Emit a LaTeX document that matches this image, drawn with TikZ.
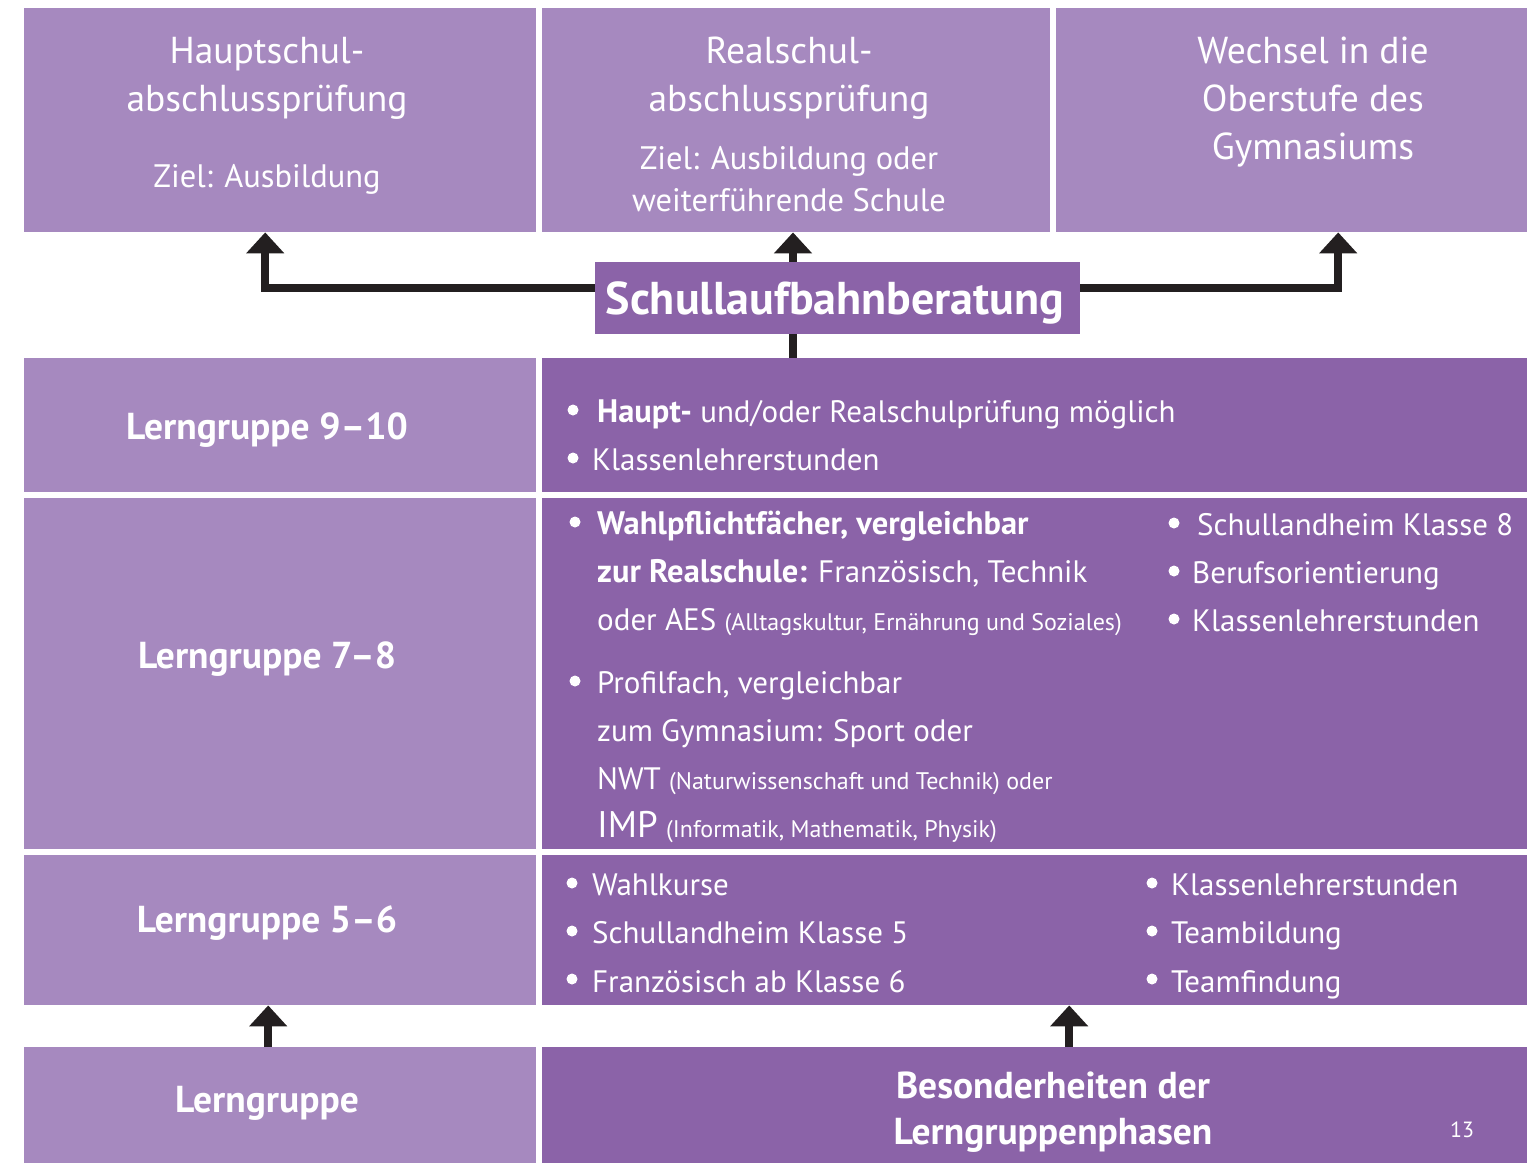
\documentclass[tikz,border=0pt]{standalone}
\usepackage{fontspec}
\setmainfont{PT Sans}
\usetikzlibrary{arrows.meta}
\definecolor{lightp}{RGB}{166,137,191}
\definecolor{darkp}{RGB}{139,99,168}
\definecolor{arrc}{RGB}{35,31,32}
\newcommand{\fs}[1]{\fontsize{#1}{#1}\selectfont}
\tikzset{
  lbox/.style={fill=lightp, draw=none, inner sep=0pt, anchor=north west},
  dbox/.style={fill=darkp, draw=none, inner sep=0pt, anchor=north west},
  ttl/.style={text=white, inner sep=0pt, anchor=base, font=\fs{37.5}},
  zl/.style={font=\fs{32.5}},
  lab/.style={text=white, inner sep=0pt, anchor=base, font=\bfseries\fs{37.5}},
  itm/.style={text=white, inner sep=0pt, anchor=base west, font=\fs{31}},
  conn/.style={draw=arrc, line width=8.5pt},
  tip/.style={-{Triangle[width=37pt,length=21pt]}},
  bul/.style={fill=white}
}
\newcommand{\sm}[1]{{\fs{24}#1}}
\newcommand{\bd}[1]{{\bfseries\fs{32.5}#1}}
\begin{document}
\begin{tikzpicture}[x=1pt,y=-1pt]
\useasboundingbox (0,0) rectangle (1527,1163);
% boxes
\node[lbox, minimum width=512pt, minimum height=224pt] (hs) at (24,8) {};
\node[lbox, minimum width=508pt, minimum height=224pt] (rs) at (542,8) {};
\node[lbox, minimum width=471pt, minimum height=224pt] (gy) at (1056,8) {};
\node[dbox, minimum width=485pt, minimum height=72pt] (sb) at (595,262) {};
\node[lbox, minimum width=512pt, minimum height=134pt] (l910) at (24,358) {};
\node[dbox, minimum width=985pt, minimum height=134pt] (r910) at (542,358) {};
\node[lbox, minimum width=512pt, minimum height=351pt] (l78) at (24,498) {};
\node[dbox, minimum width=985pt, minimum height=351pt] (r78) at (542,498) {};
\node[lbox, minimum width=512pt, minimum height=150pt] (l56) at (24,855) {};
\node[dbox, minimum width=985pt, minimum height=150pt] (r56) at (542,855) {};
\node[lbox, minimum width=512pt, minimum height=116pt] (lg) at (24,1047) {};
\node[dbox, minimum width=985pt, minimum height=116pt] (bes) at (542,1047) {};
% connectors
\coordinate (mx) at (793,0);
\draw[conn, tip] ([yshift=10pt]sb.west) -| ([xshift=-15pt]hs.south);
\draw[conn, tip] ([yshift=10pt]sb.east) -| ([xshift=46.5pt]gy.south);
\draw[conn, tip] (sb.north -| mx) -- (rs.south -| mx);
\draw[conn] (sb.south -| mx) -- (r910.north -| mx);
\draw[conn, tip] ([xshift=-12pt]lg.north) -- ([xshift=-12pt]l56.south);
\draw[conn, tip] ([xshift=34.5pt]bes.north) -- ([xshift=34.5pt]bes.north |- r56.south);
% top texts
\node[ttl] (hs1) at (267,63) {Hauptschul-};
\node[ttl] (hs2) at (267,111) {abschlussprüfung};
\node[ttl, zl] (hs3) at (267,187) {Ziel: Ausbildung};
\node[ttl] (rs1) at (789,63) {Realschul-};
\node[ttl] (rs2) at (789,111) {abschlussprüfung};
\node[ttl, zl] (rs3) at (789,169) {Ziel: Ausbildung oder};
\node[ttl, zl] (rs4) at (789,211) {weiterführende Schule};
\node[ttl] (gy1) at (1313,63) {Wechsel in die};
\node[ttl] (gy2) at (1313,111) {Oberstufe des};
\node[ttl] (gy3) at (1313,159) {Gymnasiums};
\node[lab, font=\bfseries\fs{46}] (sbt) at (835,314) {Schullaufbahnberatung};
% left labels
\node[lab] (t910) at (267,439) {Lerngruppe 9–10};
\node[lab] (t78) at (267,668) {Lerngruppe 7–8};
\node[lab] (t56) at (267,932) {Lerngruppe 5–6};
\node[lab] (tlg) at (267,1112) {Lerngruppe};
% row 9-10
\fill[bul] (573,410) circle (5.5);
\fill[bul] (573,458) circle (5.5);
\node[itm] (a1) at (597,422) {\bd{Haupt-} und/oder Realschulprüfung möglich};
\node[itm] (a2) at (592,470) {Klassenlehrerstunden};
% row 7-8
\fill[bul] (575,522) circle (5.5);
\fill[bul] (575,681) circle (5.5);
\node[itm] (b1) at (597,534) {\bd{Wahlpflichtfächer, vergleichbar}};
\node[itm] (b2) at (597,582) {\bd{zur Realschule:} Französisch, Technik};
\node[itm] (b3) at (597,630) {oder AES \sm{(Alltagskultur, Ernährung und Soziales)}};
\node[itm] (b4) at (597,693) {Profilfach, vergleichbar};
\node[itm] (b5) at (597,741) {zum Gymnasium: Sport oder};
\node[itm] (b6) at (597,789) {NWT \sm{(Naturwissenschaft und Technik) oder}};
\node[itm] (b7) at (597,837) {{\fs{37}IMP} \sm{(Informatik, Mathematik, Physik)}};
\fill[bul] (1174,523) circle (5.5);
\fill[bul] (1174,571) circle (5.5);
\fill[bul] (1174,619) circle (5.5);
\node[itm] (c1) at (1197,535) {Schullandheim Klasse 8};
\node[itm] (c2) at (1192,583) {Berufsorientierung};
\node[itm] (c3) at (1192,631) {Klassenlehrerstunden};
% row 5-6
\fill[bul] (572,883) circle (5.5);
\fill[bul] (572,931) circle (5.5);
\fill[bul] (572,979) circle (5.5);
\node[itm] (d1) at (592,895) {Wahlkurse};
\node[itm] (d2) at (592,943) {Schullandheim Klasse 5};
\node[itm] (d3) at (592,992) {Französisch ab Klasse 6};
\fill[bul] (1152,883) circle (5.5);
\fill[bul] (1152,931) circle (5.5);
\fill[bul] (1152,979) circle (5.5);
\node[itm] (e1) at (1171,895) {Klassenlehrerstunden};
\node[itm] (e2) at (1171,943) {Teambildung};
\node[itm] (e3) at (1171,992) {Teamfindung};
% bottom
\node[lab] (bs1) at (1053,1098) {Besonderheiten der};
\node[lab] (bs2) at (1053,1144) {Lerngruppenphasen};
\node[ttl, font=\fs{22}] (pg) at (1462,1137) {13};
\end{tikzpicture}
\end{document}
